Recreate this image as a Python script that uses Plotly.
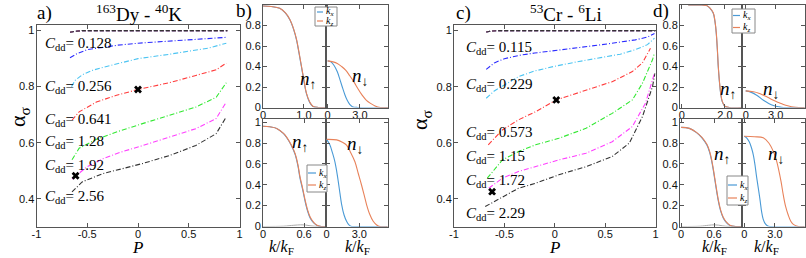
import plotly.graph_objects as go

W, H = 806, 258

# ---------------- Panel a: 163Dy - 40K, alpha_sigma vs P ----------------
cdd_a = ["0.128", "0.256", "0.641", "1.28", "1.92", "2.56"]
cdd_a_label_y = [0.953, 0.800, 0.680, 0.602, 0.516, 0.405]
label_x_a = -0.94

P_a_0128 = [-0.67, -0.6, -0.5, -0.4, -0.2, 0.0, 0.3, 0.6, 0.87]
al_a_0128 = [0.903, 0.918, 0.932, 0.938, 0.948, 0.955, 0.962, 0.968, 0.976]
P_a_0256 = [-0.655, -0.62, -0.55, -0.45, -0.3, -0.1, 0.0, 0.3, 0.5, 0.7, 0.87]
al_a_0256 = [0.800, 0.822, 0.842, 0.858, 0.873, 0.892, 0.900, 0.915, 0.926, 0.938, 0.955]
P_a_0641 = [-0.65, -0.58, -0.41, -0.22, 0.0, 0.31, 0.57, 0.77, 0.87]
al_a_0641 = [0.680, 0.710, 0.745, 0.768, 0.790, 0.814, 0.840, 0.860, 0.884]
P_a_128 = [-0.65, -0.58, -0.41, -0.18, 0.08, 0.31, 0.57, 0.77, 0.87]
al_a_128 = [0.539, 0.580, 0.612, 0.642, 0.672, 0.697, 0.727, 0.762, 0.814]
P_a_192 = [-0.65, -0.51, -0.35, -0.18, 0.05, 0.31, 0.57, 0.77, 0.87]
al_a_192 = [0.470, 0.512, 0.542, 0.565, 0.590, 0.620, 0.650, 0.686, 0.745]
P_a_256 = [-0.65, -0.55, -0.35, -0.15, 0.05, 0.31, 0.57, 0.77, 0.87]
al_a_256 = [0.424, 0.460, 0.489, 0.507, 0.526, 0.554, 0.590, 0.632, 0.692]

P_up_a = [-0.67, -0.63, -0.55, 0.0, 0.88]
al_up_a = [0.994, 0.997, 1.0, 1.0, 1.0]

mark_P_a = [0.0, -0.615]
mark_al_a = [0.790, 0.482]

# ---------------- Panel c: 53Cr - 6Li ----------------
cdd_c = ["0.115", "0.229", "0.573", "1.15", "1.72", "2.29"]
cdd_c_label_y = [0.937, 0.806, 0.636, 0.551, 0.465, 0.347]
label_x_c = -0.905

P_c_0115 = [-0.68, -0.6, -0.5, -0.35, -0.2, 0.0, 0.25, 0.45, 0.65, 0.8, 0.92, 0.99]
al_c_0115 = [0.862, 0.885, 0.900, 0.912, 0.920, 0.930, 0.940, 0.949, 0.958, 0.967, 0.977, 0.990]
P_c_0229 = [-0.68, -0.6, -0.52, -0.36, -0.2, 0.0, 0.24, 0.45, 0.65, 0.8, 0.92, 0.99]
al_c_0229 = [0.759, 0.785, 0.802, 0.836, 0.856, 0.873, 0.890, 0.902, 0.916, 0.932, 0.950, 0.973]
P_c_0573 = [-0.66, -0.52, -0.36, -0.19, 0.015, 0.31, 0.57, 0.77, 0.87, 0.95]
al_c_0573 = [0.593, 0.646, 0.682, 0.711, 0.753, 0.789, 0.818, 0.854, 0.885, 0.937]
P_c_115 = [-0.67, -0.52, -0.36, -0.19, 0.04, 0.31, 0.57, 0.77, 0.87, 0.97, 0.99]
al_c_115 = [0.474, 0.539, 0.569, 0.593, 0.616, 0.652, 0.705, 0.753, 0.812, 0.896, 0.920]
P_c_172 = [-0.655, -0.52, -0.36, -0.19, 0.04, 0.31, 0.57, 0.77, 0.90, 0.99]
al_c_172 = [0.438, 0.474, 0.498, 0.515, 0.539, 0.563, 0.604, 0.658, 0.741, 0.848]
P_c_229 = [-0.69, -0.52, -0.36, -0.19, 0.04, 0.31, 0.57, 0.74, 0.87, 0.97, 0.995]
al_c_229 = [0.373, 0.408, 0.438, 0.456, 0.486, 0.515, 0.551, 0.599, 0.693, 0.800, 0.848]

P_up_c = [-0.68, -0.64, -0.56, 0.0, 1.0]
al_up_c = [0.995, 0.998, 1.0, 1.0, 1.0]

mark_P_c = [0.015, -0.622]
mark_al_c = [0.753, 0.426]

# ---------------- Panel b: momentum distributions (Dy-K) ----------------
k_b_ul_x = [0, 0.2, 0.41, 0.55, 0.66, 0.75, 0.82, 0.88, 0.94, 1.0, 1.06, 1.14, 1.22, 1.35, 1.54]
n_b_ul_x = [0.99, 0.985, 0.968, 0.92, 0.853, 0.76, 0.658, 0.53, 0.397, 0.26, 0.137, 0.05, 0.01, 0.0, 0.0]
k_b_ul_z = [0, 0.2, 0.41, 0.55, 0.66, 0.75, 0.82, 0.88, 0.94, 1.0, 1.06, 1.14, 1.22, 1.35, 1.54]
n_b_ul_z = [0.99, 0.985, 0.968, 0.922, 0.856, 0.765, 0.665, 0.54, 0.405, 0.27, 0.142, 0.055, 0.012, 0.0, 0.0]

k_b_ur_x = [0, 0.3, 0.6, 0.9, 1.15, 1.36, 1.6, 1.82, 2.05, 2.3, 2.8, 5.6]
n_b_ur_x = [0.455, 0.446, 0.41, 0.348, 0.27, 0.2, 0.125, 0.07, 0.03, 0.008, 0.0, 0.0]
k_b_ur_z = [0, 0.5, 0.9, 1.3, 1.67, 2.05, 2.44, 2.8, 3.2, 3.6, 3.98, 4.4, 4.9, 5.6]
n_b_ur_z = [0.455, 0.445, 0.43, 0.40, 0.365, 0.31, 0.25, 0.185, 0.12, 0.07, 0.04, 0.015, 0.0, 0.0]

k_b_ll_x = [0, 0.1, 0.2, 0.3, 0.35, 0.41, 0.47, 0.51, 0.54, 0.58, 0.615, 0.65, 0.69, 0.74, 0.79, 0.85, 0.92]
n_b_ll_x = [0.96, 0.955, 0.94, 0.89, 0.848, 0.78, 0.688, 0.58, 0.464, 0.35, 0.24, 0.15, 0.08, 0.035, 0.01, 0.0, 0.0]
k_b_ll_z = [0, 0.1, 0.2, 0.3, 0.35, 0.41, 0.47, 0.51, 0.54, 0.58, 0.615, 0.65, 0.69, 0.74, 0.79, 0.85, 0.92]
n_b_ll_z = [0.96, 0.955, 0.94, 0.892, 0.852, 0.786, 0.697, 0.592, 0.478, 0.364, 0.254, 0.162, 0.088, 0.04, 0.012, 0.0, 0.0]
k_b_ll_g = [0, 0.3, 0.45, 0.55, 0.62, 0.7, 0.8, 0.92]
n_b_ll_g = [0, 0.003, 0.012, 0.016, 0.014, 0.006, 0.001, 0]

k_b_lr_x = [0, 0.3, 0.55, 0.76, 0.92, 1.07, 1.22, 1.38, 1.6, 1.83, 2.05, 2.3, 2.8, 5.6]
n_b_lr_x = [0.835, 0.78, 0.7, 0.62, 0.53, 0.43, 0.32, 0.21, 0.11, 0.05, 0.015, 0.0, 0.0, 0.0]
k_b_lr_z = [0, 0.92, 1.4, 1.83, 2.2, 2.6, 2.9, 3.2, 3.45, 3.67, 3.95, 4.28, 4.6, 4.9, 5.6]
n_b_lr_z = [0.835, 0.83, 0.81, 0.78, 0.71, 0.62, 0.51, 0.40, 0.30, 0.21, 0.12, 0.05, 0.015, 0.0, 0.0]

# ---------------- Panel d: momentum distributions (Cr-Li) ----------------
k_d_ul_x = [0.3, 0.8, 1.15, 1.3, 1.46, 1.55, 1.6, 1.65, 1.69, 1.74, 1.8, 1.87, 2.0, 2.2, 2.79]
n_d_ul_x = [1.0, 1.0, 0.995, 0.97, 0.92, 0.82, 0.72, 0.56, 0.40, 0.26, 0.14, 0.06, 0.01, 0.0, 0.0]
k_d_ul_z = [0.3, 0.8, 1.15, 1.3, 1.46, 1.55, 1.6, 1.65, 1.69, 1.74, 1.8, 1.87, 2.0, 2.2, 2.79]
n_d_ul_z = [1.0, 1.0, 0.995, 0.972, 0.924, 0.826, 0.728, 0.57, 0.41, 0.27, 0.148, 0.065, 0.012, 0.0, 0.0]

k_d_ur_x = [0, 0.5, 1.1, 1.77, 2.3, 2.77, 3.3, 3.8, 5.9]
n_d_ur_x = [0.162, 0.15, 0.12, 0.07, 0.04, 0.02, 0.007, 0.0, 0.0]
k_d_ur_z = [0, 0.77, 1.3, 1.77, 2.3, 2.77, 3.3, 3.77, 4.3, 4.77, 5.3, 5.9]
n_d_ur_z = [0.162, 0.153, 0.14, 0.12, 0.095, 0.07, 0.048, 0.03, 0.015, 0.005, 0.0, 0.0]

k_d_ll_x = [0, 0.15, 0.28, 0.38, 0.47, 0.52, 0.56, 0.59, 0.62, 0.65, 0.68, 0.72, 0.77, 0.83, 0.89, 1.0, 1.11]
n_d_ll_x = [0.95, 0.94, 0.9, 0.85, 0.78, 0.71, 0.62, 0.53, 0.43, 0.33, 0.24, 0.15, 0.08, 0.035, 0.01, 0.0, 0.0]
k_d_ll_z = [0, 0.15, 0.28, 0.38, 0.47, 0.52, 0.56, 0.59, 0.62, 0.65, 0.68, 0.72, 0.77, 0.83, 0.89, 1.0, 1.11]
n_d_ll_z = [0.95, 0.94, 0.902, 0.854, 0.787, 0.72, 0.632, 0.543, 0.443, 0.343, 0.252, 0.16, 0.087, 0.04, 0.012, 0.0, 0.0]
k_d_ll_g = [0, 0.35, 0.5, 0.6, 0.68, 0.76, 0.86, 1.11]
n_d_ll_g = [0, 0.003, 0.012, 0.016, 0.013, 0.006, 0.001, 0]

k_d_lr_x = [0, 0.23, 0.5, 0.72, 0.9, 1.05, 1.2, 1.37, 1.55, 1.7, 1.85, 2.03, 2.3, 2.6, 5.9]
n_d_lr_x = [0.865, 0.85, 0.81, 0.75, 0.68, 0.59, 0.48, 0.37, 0.25, 0.14, 0.07, 0.03, 0.005, 0.0, 0.0]
k_d_lr_z = [0, 1.0, 1.86, 2.4, 2.84, 3.1, 3.33, 3.6, 3.82, 4.05, 4.3, 4.55, 4.8, 5.3, 5.9]
n_d_lr_z = [0.865, 0.86, 0.85, 0.80, 0.72, 0.65, 0.56, 0.43, 0.30, 0.19, 0.11, 0.05, 0.02, 0.0, 0.0]

# tick labels
alpha_tickvals = [0.4, 0.6, 0.8, 1.0]
alpha_ticktext = ["0.4", "0.6", "0.8", "1"]
P_tickvals = [-1, -0.5, 0, 0.5, 1]
P_ticktext = ["-1", "-0.5", "0", "0.5", "1"]
n_tickvals = [0, 0.2, 0.4, 0.6, 0.8, 1.0]
n_ticktext = ["0", "0.2", "0.4", "0.6", "0.8", "1"]

# ---------------- styling ----------------
COL = ["#2b2bff", "#4cc4f2", "#ff3b3b", "#33e833", "#ff40ff", "#333333"]
KX = "#4a9ad6"
KZ = "#e8825a"
SERIF = "Liberation Serif, Times New Roman, serif"
SANS = "Liberation Sans, Arial, sans-serif"
AX = "#555555"


def dxp(a, b):
    return [a / W, b / W]


def dyp(top, bottom):
    return [1 - bottom / H, 1 - top / H]


def axis(domain, rng, anchor, tickvals, ticktext, labels=True, standoff=0):
    return dict(domain=domain, range=rng, anchor=anchor, tickmode="array",
                tickvals=tickvals, ticktext=ticktext, showticklabels=labels,
                showline=True, linecolor=AX, linewidth=1, mirror="ticks",
                ticks="inside", ticklen=4, tickwidth=1, tickcolor=AX,
                showgrid=False, zeroline=False, fixedrange=True, automargin=False,
                ticklabelstandoff=standoff,
                tickfont=dict(family=SANS, size=11, color="#111"))


fig = go.Figure()


def line(x, y, ax, color, dash="solid", width=1.0, shape="linear"):
    fig.add_trace(go.Scatter(x=x, y=y, xaxis="x" + ax, yaxis="y" + ax, mode="lines",
                             line=dict(color=color, width=width, dash=dash, shape=shape),
                             showlegend=False, hoverinfo="skip"))


DASHDOT = "5px,2px,1px,2px"
DASH = "4px,2px"

# Panel a
curves_a = [(P_a_0128, al_a_0128), (P_a_0256, al_a_0256), (P_a_0641, al_a_0641),
            (P_a_128, al_a_128), (P_a_192, al_a_192), (P_a_256, al_a_256)]
for (px, al), c in zip(curves_a, COL):
    line(px, al, "", c, DASHDOT, 1.1)
for c in COL:
    line(P_up_a, al_up_a, "", c, DASH, 1.1)
fig.add_trace(go.Scatter(x=mark_P_a, y=mark_al_a, xaxis="x", yaxis="y", mode="markers",
                         marker=dict(symbol="x", size=7, color="black"),
                         showlegend=False, hoverinfo="skip"))

# Panel c
curves_c = [(P_c_0115, al_c_0115), (P_c_0229, al_c_0229), (P_c_0573, al_c_0573),
            (P_c_115, al_c_115), (P_c_172, al_c_172), (P_c_229, al_c_229)]
for (px, al), c in zip(curves_c, COL):
    line(px, al, "6", c, DASHDOT, 1.1)
for c in COL:
    line(P_up_c, al_up_c, "6", c, DASH, 1.1)
fig.add_trace(go.Scatter(x=mark_P_c, y=mark_al_c, xaxis="x6", yaxis="y6", mode="markers",
                         marker=dict(symbol="x", size=7, color="black"),
                         showlegend=False, hoverinfo="skip"))

# Panels b and d
dens = [
    ("2", k_b_ul_x, n_b_ul_x, k_b_ul_z, n_b_ul_z),
    ("3", k_b_ur_x, n_b_ur_x, k_b_ur_z, n_b_ur_z),
    ("4", k_b_ll_x, n_b_ll_x, k_b_ll_z, n_b_ll_z),
    ("5", k_b_lr_x, n_b_lr_x, k_b_lr_z, n_b_lr_z),
    ("7", k_d_ul_x, n_d_ul_x, k_d_ul_z, n_d_ul_z),
    ("8", k_d_ur_x, n_d_ur_x, k_d_ur_z, n_d_ur_z),
    ("9", k_d_ll_x, n_d_ll_x, k_d_ll_z, n_d_ll_z),
    ("10", k_d_lr_x, n_d_lr_x, k_d_lr_z, n_d_lr_z),
]
line(k_b_ll_g, n_b_ll_g, "4", "#aaaaaa", "solid", 1.0, "spline")
line(k_d_ll_g, n_d_ll_g, "9", "#aaaaaa", "solid", 1.0, "spline")
for ax, kx, nx, kz, nz in dens:
    line(kx, nx, ax, KX, "solid", 1.1, "spline")
    line(kz, nz, ax, KZ, "solid", 1.1, "spline")

layout = dict(template="none", width=W, height=H, margin=dict(l=0, r=0, t=0, b=0, pad=0),
              paper_bgcolor="white", plot_bgcolor="white", showlegend=False)

layout["xaxis"] = axis(dxp(36.5, 239.5), [-1, 1], "y", P_tickvals, P_ticktext, standoff=-3)
layout["yaxis"] = axis(dyp(25, 226.7), [0.3, 1.02], "x", alpha_tickvals, alpha_ticktext, standoff=-1)
layout["xaxis6"] = axis(dxp(454, 655.5), [-1, 1], "y6", P_tickvals, P_ticktext, standoff=-3)
layout["yaxis6"] = axis(dyp(25, 227), [0.3, 1.02], "x6", alpha_tickvals, alpha_ticktext, standoff=-1)

sub = {
    "2": (dxp(263, 326), dyp(5, 107.5), [0, 1.54], [0, 1.0], ["0", "1.0"], [0, 1.0], True),
    "3": (dxp(326, 388), dyp(5, 107.5), [-0.15, 5.6], [0, 3.0], ["0", "3.0"], [0, 1.0], False),
    "4": (dxp(263, 326), dyp(119, 226.5), [0, 0.92], [0, 0.6], ["0", "0.6"], [0, 1.03], True),
    "5": (dxp(326, 388), dyp(119, 226.5), [-0.06, 5.64], [0, 3.0], ["0", "3.0"], [0, 1.03], False),
    "7": (dxp(680, 742), dyp(5, 107.5), [-0.08, 2.79], [0, 2.0], ["0", "2.0"], [0, 1.0], True),
    "8": (dxp(742, 805), dyp(5, 107.5), [-0.37, 5.93], [0, 3.0], ["0", "3.0"], [0, 1.0], False),
    "9": (dxp(680, 742), dyp(119, 226.5), [-0.02, 1.11], [0, 0.6], ["0", "0.6"], [0, 1.03], True),
    "10": (dxp(742, 805), dyp(119, 226.5), [-0.22, 5.94], [0, 3.0], ["0", "3.0"], [0, 1.03], False),
}
for k, (xd, yd, xr, xtv, xtt, yr, ylab) in sub.items():
    layout["xaxis" + k] = axis(xd, xr, "y" + k, xtv, xtt, standoff=-3)
    layout["yaxis" + k] = axis(yd, yr, "x" + k, n_tickvals, n_ticktext, ylab, standoff=-1)

ann = []


def pann(x, y, text, size, xanchor="center", yanchor="middle", angle=0, font=SERIF):
    ann.append(dict(x=x / W, y=1 - y / H, xref="paper", yref="paper", text=text,
                    showarrow=False, xanchor=xanchor, yanchor=yanchor, textangle=angle,
                    font=dict(family=font, size=size, color="black")))


# panel letters and titles
pann(35, 13, "a)", 19, "left")
pann(139, 13, "<sup>163</sup>Dy - <sup>40</sup>K", 19)
pann(234, 11, "b)", 19, "left")
pann(454, 13, "c)", 19, "left")
pann(566, 13, "<sup>53</sup>Cr - <sup>6</sup>Li", 19)
pann(651, 11, "d)", 19, "left")

# axis titles
pann(19, 117, "α<sub>σ</sub>", 22, angle=-90)
pann(421, 120, "α<sub>σ</sub>", 22, angle=-90)
pann(137, 247.5, "<i>P</i>", 17)
pann(554, 247.5, "<i>P</i>", 17)
for xc in [281, 357, 714, 766]:
    pann(xc, 247, "<i>k</i>/<i>k</i><sub>F</sub>", 16)

# n labels
up = "<i>n</i><sub>↑</sub>"
dn = "<i>n</i><sub>↓</sub>"
for (xc, yc, t) in [(308, 80, up), (360, 77, dn), (300, 143, up), (355, 145, dn),
                    (728, 90, up), (771, 90, dn), (722, 155, up), (776, 155, dn)]:
    pann(xc, yc, t, 19)

# C_dd labels
for lab, yv in zip(cdd_a, cdd_a_label_y):
    ann.append(dict(x=label_x_a, y=yv, xref="x", yref="y", xanchor="left", yanchor="middle",
                    text="<i>C</i><sub>dd</sub>= " + lab, showarrow=False,
                    font=dict(family=SERIF, size=15, color="black")))
for lab, yv in zip(cdd_c, cdd_c_label_y):
    ann.append(dict(x=label_x_c, y=yv, xref="x6", yref="y6", xanchor="left", yanchor="middle",
                    text="<i>C</i><sub>dd</sub>= " + lab, showarrow=False,
                    font=dict(family=SERIF, size=15, color="black")))

# hand-drawn compact legends (box, line samples, labels)
shapes = []
legends = [  # (x0, y0, x1, y1, line_x0, line_x1, y_kx, y_kz)
    (315, 7, 337, 26, 317, 323, 12, 21),
    (307, 165, 327, 192, 308, 316, 173, 185),
    (732, 9, 755, 33, 733, 740, 15.5, 27.5),
    (727, 176, 748, 205, 728, 737, 185, 198),
]
for x0, y0, x1, y1, lx0, lx1, yx, yz in legends:
    shapes.append(dict(type="rect", xref="paper", yref="paper", x0=x0 / W, x1=x1 / W,
                       y0=1 - y1 / H, y1=1 - y0 / H, line=dict(color="#888", width=1),
                       fillcolor="white", layer="above"))
    for yy, cc in [(yx, KX), (yz, KZ)]:
        shapes.append(dict(type="line", xref="paper", yref="paper", x0=lx0 / W, x1=lx1 / W,
                           y0=1 - yy / H, y1=1 - yy / H, line=dict(color=cc, width=1.2),
                           layer="above"))
    pann(lx1 + 1, yx, "<i>k<sub>x</sub></i>", 10, "left")
    pann(lx1 + 1, yz, "<i>k<sub>z</sub></i>", 10, "left")

layout["annotations"] = ann
layout["shapes"] = shapes
fig.update_layout(**layout)
fig.write_html("out.html", config={"displayModeBar": False, "staticPlot": True},
               post_script="document.body.style.margin='0';document.body.style.overflow='hidden';")
